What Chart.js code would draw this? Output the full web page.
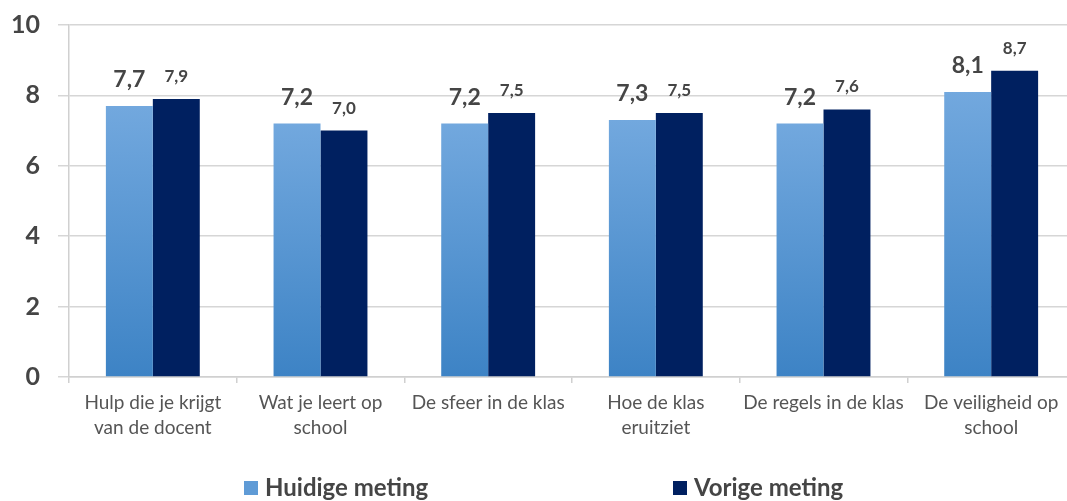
<!DOCTYPE html>
<html><head><meta charset="utf-8">
<script src="https://cdn.jsdelivr.net/npm/chart.js@4/dist/chart.umd.min.js"></script>
<style>html,body{margin:0;padding:0;background:#fff;overflow:hidden}#wrap{width:1080px;height:501px}</style>
</head><body><div id="wrap"><canvas id="c" width="1080" height="501"></canvas></div>
<script>
const categories = [["Hulp die je krijgt","van de docent"],["Wat je leert op","school"],["De sfeer in de klas"],["Hoe de klas","eruitziet"],["De regels in de klas"],["De veiligheid op","school"]];
const seriesNames = ["Huidige meting","Vorige meting"];
const huidige = [7.7,7.2,7.2,7.3,7.2,8.1];
const vorige = [7.9,7.0,7.5,7.5,7.6,8.7];
const yTicks = [0,2,4,6,8,10];

const fmt = v => v.toFixed(1).replace('.', ',');

function lightGradient(ctx){
  const chart = ctx.chart;
  const area = chart.chartArea;
  if (!area || ctx.parsed === undefined) return '#5b9bd5';
  const y = chart.scales.y;
  const top = y.getPixelForValue(ctx.parsed.y);
  const bottom = y.getPixelForValue(0);
  const g = chart.ctx.createLinearGradient(0, top, 0, bottom);
  g.addColorStop(0, '#72a8de');
  g.addColorStop(1, '#3d83c5');
  return g;
}

const valueLabels = {
  id: 'valueLabels',
  afterDatasetsDraw(chart){
    const c = chart.ctx;
    chart.data.datasets.forEach((ds, i) => {
      const meta = chart.getDatasetMeta(i);
      const st = ds.labelStyle;
      c.save();
      c.font = st.font;
      c.fillStyle = '#454545';
      c.textAlign = 'center';
      c.textBaseline = 'alphabetic';
      meta.data.forEach((bar, j) => {
        c.fillText(fmt(ds.data[j]), bar.x, bar.y - st.offset);
      });
      c.restore();
    });
  }
};

const bottomLegend = {
  id: 'bottomLegend',
  afterDraw(chart){
    const c = chart.ctx;
    const pos = [244, 673];
    const yc = 488;
    c.save();
    c.font = 'bold 24px Lato';
    c.textBaseline = 'middle';
    c.textAlign = 'left';
    chart.data.datasets.forEach((ds, i) => {
      c.fillStyle = ds.legendColor;
      c.fillRect(pos[i], yc - 7, 14, 14);
      c.fillStyle = '#454545';
      c.fillText(ds.label, pos[i] + 21, yc);
    });
    c.restore();
  }
};

new Chart(document.getElementById('c'), {
  type: 'bar',
  data: {
    labels: categories,
    datasets: [
      { label: seriesNames[0], data: huidige, backgroundColor: lightGradient, legendColor: '#5f9bd6',
        labelStyle: { font: 'bold 23px Lato', offset: 19 }, categoryPercentage: 0.56, barPercentage: 1.0 },
      { label: seriesNames[1], data: vorige, backgroundColor: '#002060', legendColor: '#002060',
        labelStyle: { font: 'bold 17px Lato', offset: 17 }, categoryPercentage: 0.56, barPercentage: 1.0 }
    ]
  },
  options: {
    responsive: false,
    animation: false,
    devicePixelRatio: 1,
    layout: { autoPadding: false, padding: { top: 25, right: 5, left: 0, bottom: 0 } },
    plugins: { legend: { display: false }, tooltip: { enabled: false } },
    scales: {
      x: {
        afterFit(scale){ scale.height = 124; },
        grid: { offset: true, drawOnChartArea: false, color: '#d0d0d0', lineWidth: 1.5, tickLength: 6 },
        border: { color: '#d0d0d0', width: 1.5 },
        ticks: { color: '#555555', font: { family: 'Lato', size: 19, lineHeight: 1.3 }, padding: 8, maxRotation: 0, autoSkip: false }
      },
      y: {
        min: 0, max: 10,
        afterFit(scale){ scale.width = 69; scale.paddingTop = 0; scale.paddingBottom = 0; },
        afterBuildTicks(scale){ scale.ticks = yTicks.map(v => ({ value: v })); },
        grid: { color: '#d6d6d6', lineWidth: 1.5, tickLength: 11 },
        border: { color: '#d0d0d0', width: 1.5 },
        ticks: { color: '#454545', font: { family: 'Lato', size: 25, weight: 'bold' }, padding: 18 }
      }
    }
  },
  plugins: [valueLabels, bottomLegend]
});
</script>
</body></html>
